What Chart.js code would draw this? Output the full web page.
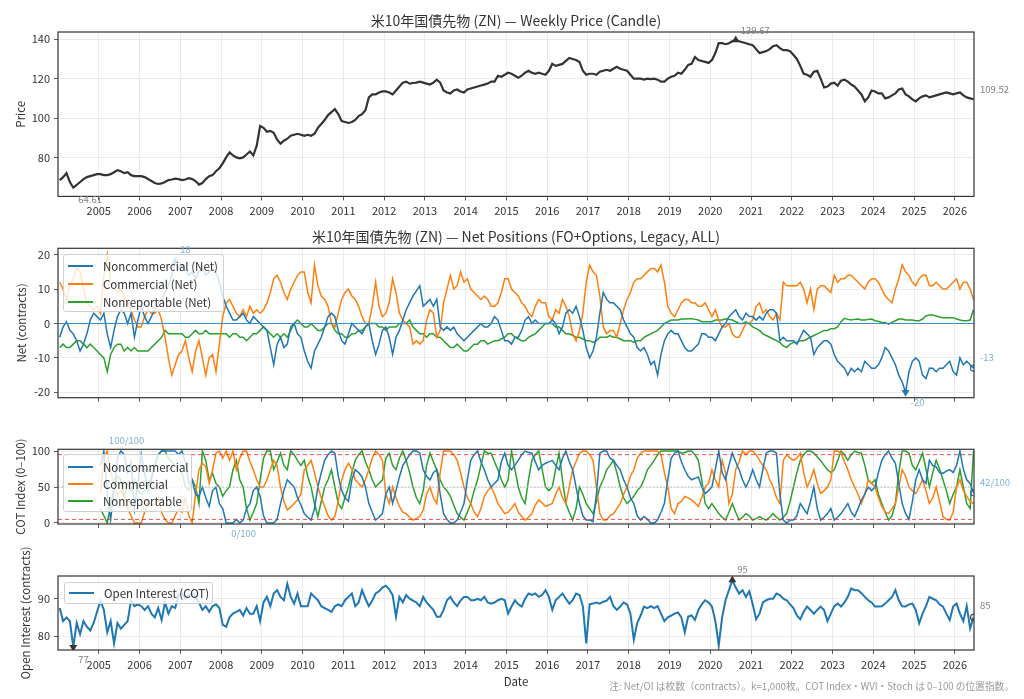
<!DOCTYPE html>
<html><head><meta charset="utf-8">
<script src="https://cdn.jsdelivr.net/npm/chart.js@4.4.1/dist/chart.umd.min.js"></script>
<style>
html,body{margin:0;padding:0;background:#fff;width:1024px;height:699px;overflow:hidden;font-family:"Noto Sans CJK JP","Noto Sans",sans-serif;}
canvas{position:absolute;left:0;}
.title{position:absolute;left:58px;width:916px;text-align:center;font-size:14px;color:#333;line-height:16px;white-space:nowrap;}
.legend{position:absolute;background:rgba(255,255,255,0.8);border:1px solid #d0d0d0;border-radius:3px;box-sizing:border-box;font-size:11.5px;color:#333;z-index:5;}
.legend .row{position:absolute;left:0;height:16px;display:flex;align-items:center;white-space:nowrap;}
.legend .sw{display:inline-block;width:25px;height:2px;margin-left:4px;margin-right:10px;}
.note{position:absolute;right:10px;top:680px;font-size:9.7px;color:#999;white-space:nowrap;line-height:12px;}
</style></head>
<body>
<canvas id="c1" width="1024" height="222" style="top:0px"></canvas>
<canvas id="c2" width="1024" height="192" style="top:222px"></canvas>
<canvas id="c3" width="1024" height="131" style="top:414px"></canvas>
<canvas id="c4" width="1024" height="154" style="top:545px"></canvas>

<div class="title" style="top:12px">米10年国債先物 (ZN) — Weekly Price (Candle)</div>
<div class="title" style="top:228px">米10年国債先物 (ZN) — Net Positions (FO+Options, Legacy, ALL)</div>

<div class="legend" style="left:63px;top:254px;width:161px;height:58px">
  <div class="row" style="top:3px"><span class="sw" style="background:#1f77b4"></span>Noncommercial (Net)</div>
  <div class="row" style="top:20.7px"><span class="sw" style="background:#ff7f0e"></span>Commercial (Net)</div>
  <div class="row" style="top:38.7px"><span class="sw" style="background:#2ca02c"></span>Nonreportable (Net)</div>
</div>
<div class="legend" style="left:63px;top:454px;width:129px;height:58px">
  <div class="row" style="top:4px"><span class="sw" style="background:#1f77b4"></span>Noncommercial</div>
  <div class="row" style="top:21.3px"><span class="sw" style="background:#ff7f0e"></span>Commercial</div>
  <div class="row" style="top:38px"><span class="sw" style="background:#2ca02c"></span>Nonreportable</div>
</div>
<div class="legend" style="left:64px;top:582px;width:149px;height:22px">
  <div class="row" style="top:2.3px"><span class="sw" style="background:#1f77b4"></span>Open Interest (COT)</div>
</div>
<div class="note">注: Net/OI は枚数（contracts）。k=1,000枚。COT Index・WVI・Stoch は 0–100 の位置指数。</div>

<script>
// ---------------- DATA (monthly readings, Jan 2004 .. Jun 2026) ----------------
const START_YEAR = 2004;
const yearTicks = [2005,2006,2007,2008,2009,2010,2011,2012,2013,2014,2015,2016,2017,2018,2019,2020,2021,2022,2023,2024,2025,2026];
const priceTicks = [80,100,120,140];
const netTicks = [-20,-10,0,10,20];
const cotTicks = [0,50,100];
const oiTicks = [80,90];

const price = [
68.5,70,72,67.5,64.61,66,67.5,69,70,70.5,71,71.5,
71.5,71,71,71.5,72.5,73.5,73,72,72.5,71,70.5,70.5,
70.5,70,69,68,67,66.5,66.8,67.5,68.5,68.8,69.2,69,
68.5,68.8,69.5,69,68,66.2,67,69,70.5,71,73,74.5,
77,80,82.5,81,80,79.5,80,81.5,83,81,86,96,
95,93,93.5,92.5,89,87,88.5,89.5,91,91.5,92,91.5,
91,91.5,91,92,95,97,99,101.5,103,104.5,102,98.5,
98,97.5,98,99,101,102,104,110.5,112,112,113,113.5,
113.5,113,112,114,116,118,118.5,117.5,117.8,118,118.5,118,
117.5,117,118,119.5,118,114,113,112.5,114,114.5,113.5,113,
114.5,115,115.5,116,116.5,117,117.5,118.5,118.5,121.5,121,122,
123,122.5,121.5,120.5,121.5,123,124,123,122.5,123,122.5,122,
124,127.5,126.5,127,127.5,129,130.5,130,129.5,128.5,124,122,
122.5,122.5,122,123.5,124,124.5,124,125,126,125,124.5,124,
122,120,120,120,119.5,120,119.8,120,119.5,118.5,118.5,120,
121,121.5,123,122.5,124.5,127,127.5,131,129.5,129,128.5,128,
129.5,133,138,138,137.5,138,139,139.67,139,138.5,138,137.5,
137,135,133,133.5,134,135,136.5,137,135.5,134.5,134.5,134,
132,130,126.5,122.5,122,121,123.5,124,120,115.5,116,117.5,
118,116.5,119,119.5,118.5,117,116,114,112,108.5,110.5,114,
113.5,112.5,112.5,110,110.5,111.5,112.5,114.5,115,112,111,109.5,
108.5,110,111,111.5,110.5,111,111.5,112,112.5,113,112.5,112,
112.5,113,111.5,110.5,110,109.52];

const netNoncommercial = [
-4,-1,0.5,-2,-3,-5,-8,-6,-3,1,3,2,
1,3,-3,-7,-2,2,4,3,0,3,-4,1,
5,2,0,2,4,6,7,9,11,14,18,16,
17,16,14,15,13,15,16,14,15,16,15,12,
8,5,3,1,1,2,3,1,0,2,1,0,
-1,-2,-7,-12,-6,-4,-7,-6,-1,0,-3,-4,
-8,-11,-13,-8,-6,-4,-1,2,3,2,-2,-5,
-6,-3,0,-1,-2,-3,-1,0,-5,-9,-6,-2,
-1,-4,-9,-4,-2,1,4,6,8,9.5,11,5,
6,7,5,7,-1,-2,-1,-2,-1,-3,-4,-5,
-4,-3,-2,-1,0,-1,-1,0,2,1,-2,-5,
-5,-6,-4,-4,-2,1,2,0,1,0,0,0,
0,1,0,-3,-1,3,4,3,5,2,-2,-7,
-10,-8,-4,3,9,7,6,6,5,4,1,-1,
-3,-4,-7,-8,-7,-9,-12,-11,-15,-9,-5,-3,
-2,-3,-3,-5,-7,-8,-8,-7,-6,-3,-3,-4,
-4,-5,-3,-1,0,2,3,4,2,1,3,2,
2,1,2,1,3,4,4,3,-5,-4,-5,-5,
-5,-6,-4,-2,-3,-4,-9,-7,-6,-5,-5,-6,
-9,-11,-12,-13,-15,-13,-14,-13,-14,-11,-12,-13,
-13,-12,-10,-7,-8,-10,-12,-15,-17,-20,-14,-11,
-10,-11,-15,-16,-13,-13,-14,-13,-13,-12,-11,-14,
-15,-10,-12,-11,-12,-13];

const netCommercial = [
12,10,7,11,13,16,15,10,6,5,4,5,
3,14,20,12,10,9,10,8,6,4,1,-1,
-1,2,4,3,3,4,1,-4,-10,-15,-12,-9,
-8,-5,-10,-14,-8,-5,-10,-15,-10,-9,-14,-6,
2,6,7,5,3,2,4,2,5,3,4,3,
4,6,9,13,14,12,9,7,10,12,14,15,
15,9,6,17,11,8,7,5,0,-1,3,7,
9,10,8,7,5,2,0,0,5,12,5,2,
3,6,13,9,3,1,0,-1,-6,-5,-6,-5,
1,4,3,-4,-2,6,10,14,10,11,15,12,
13,10,9,8,7,8,7,5,5,6,9,13,
13,10,9,8,6,5,3,2,5,7,6,6,
2,1,4,3,7,5,2,-3,-5,-2,3,12,
17,15,14,8,-1,-3,-2,-2,-4,0,4,7,
9,12,13,13,14,15,16,16,15,17,12,5,
3,2,4,6,7,7,6,6,5,5,6,4,
2,4,1,-1,-1,0,-3,-4,-4,-2,0,0,
1,5,6,3,4,2,1,3,1,12,11,11,
11,11,12,10,6,10,4,10,11,11,10,9,
14,12,13,13,14,14,13,12,11,10,12,13,
13,12,10,8,7,6,10,13,17,15,14,12,
11,13,14,14,11,11,12,11,10,10,11,12,
13,10,12,12,10,7];

const netNonreportable = [
-7,-6,-7,-7,-6,-5,-5,-6,-7,-6,-7,-8,
-9,-10,-14,-9,-7,-6,-6,-8,-7,-8,-7,-8,
-8,-8,-8,-7,-6,-5,-4,-2,-3,-3,-3,-3,
-3,-4,-4,-3,-2,-3,-3,-2,-3,-3,-3,-3,
-3,-3,-4,-3,-3,-4,-4,-5,-4,-3,-3,-2,
-1,-2,-3,-4,-3,-4,-3,-4,-2,0,1,0,
-1,-1,0,-1,-2,-2,-1,0,0,-2,-3,-3,
-4,-4,-3,-3,-2,-2,-1,0,0,0,-1,-1,
-2,-1,-1,-1,0,0,0,1,-1,-2,-3,-3,
-4,-3,-3,-4,-4,-5,-6,-7,-7,-6,-7,-8,
-8,-7,-6,-6,-5,-5,-6,-5.5,-5,-5,-4.5,-4,
-3,-3,-4,-4.5,-5,-5,-4,-3.5,-3,-2,-1,0,
0,0,-1,-1,-2,-3,-3,-3.5,-4,-4,-4.5,-5,
-5,-5.5,-5,-4,-4,-4,-3.5,-4,-4,-4.5,-5,-5,
-5,-5.5,-5,-5,-4,-3.5,-3,-2.5,-2,-1,0,0.5,
1,1,1,1.3,1.3,1.4,1.4,1.2,1,0.5,0.5,0.5,
0.5,1,1,1,1.4,1.2,1,0.5,0,0,0.5,0,
-1,-1.5,-2,-3,-3.5,-4,-4.5,-5,-5.5,-6.5,-7,-6,
-5.5,-5.5,-5,-5,-4.5,-4,-3.5,-3,-2.5,-2,-2,-1.5,
-1.5,-1,0.5,1.5,1.2,1,1.2,1.3,1,1,1.2,1.3,
0.8,0.6,0.3,0.3,-0.2,0.3,0.8,1.3,1.3,1,1,1,
0.8,0.8,1.3,2.2,2.5,2.5,2.2,1.9,1.7,1.7,1.7,1.7,
1.3,1,0.8,0.8,1,4];

const cotNoncommercial = [
null,null,null,null,null,null,null,null,null,null,null,null,
80,100,40,5,45,90,100,95,70,85,20,55,
95,70,45,60,80,95,100,100,100,100,100,95,
100,85,55,60,40,37,50,35,23,45,50,27,
20,0,0,0,5,0,4,20,27,45,50,37,
10,0,0,0,5,27,45,60,55,50,35,25,
13,8,4,20,50,70,87,95,100,97,65,45,
35,30,60,74,70,64,50,27,15,4,8,13,
40,50,27,45,64,80,87,95,100,100,97,74,
65,60,70,74,40,13,5,0,0,4,15,27,
60,87,95,100,85,74,60,50,55,60,85,97,
80,74,80,87,95,100,98,97,85,74,80,83,
85,87,80,74,90,100,85,74,50,27,10,4,
4,2,40,97,100,100,90,87,80,74,60,50,
35,27,10,4,9,5,0,0,4,15,27,60,
90,97,100,85,74,65,60,62,64,50,41,45,
50,75,100,70,60,80,97,85,74,60,50,60,
74,60,50,75,97,100,100,97,40,4,0,4,
4,10,27,20,13,30,50,20,4,8,13,20,
4,8,13,20,27,15,9,20,32,40,50,45,
50,70,87,95,100,90,83,55,27,13,5,30,
60,74,60,55,87,80,78,70,69,72,74,70,
80,100,75,60,55,42];

const cotCommercial = [
null,null,null,null,null,null,null,null,null,null,null,null,
40,90,100,70,55,40,45,35,20,10,0,0,
0,15,30,25,25,35,15,5,0,0,10,20,
15,35,10,0,40,74,83,78,55,74,97,100,
90,100,87,100,74,90,100,100,85,74,60,50,
50,60,74,87,80,50,30,18,22,27,32,40,
74,80,87,70,50,35,23,10,4,9,30,60,
74,83,75,60,55,50,60,74,90,100,95,87,
40,27,50,35,23,15,13,8,4,6,9,18,
40,50,35,27,70,100,100,100,95,87,70,50,
35,27,15,9,20,37,45,50,40,27,20,13,
15,20,27,15,9,4,8,13,25,32,28,23,
25,27,40,50,35,27,50,74,85,97,100,100,
95,87,50,13,4,4,10,13,20,27,40,50,
65,74,90,97,100,100,100,100,100,95,70,50,
20,13,27,30,37,35,32,28,23,35,50,55,
74,60,50,87,70,27,40,74,85,100,95,100,
100,95,87,80,74,60,50,35,27,87,95,90,
87,90,97,70,50,60,74,55,41,45,50,60,
100,100,97,85,74,60,50,40,27,40,60,55,
50,35,23,15,13,20,27,50,74,65,50,45,
41,50,60,45,27,35,50,30,9,5,4,15,
50,60,45,37,30,27];

const cotNonreportable = [
null,null,null,null,null,null,null,null,null,null,null,null,
20,10,0,25,50,65,60,35,55,45,60,45,
40,45,50,65,80,95,100,100,90,85,80,75,
70,50,45,60,50,27,100,87,60,69,55,50,
37,45,50,74,87,60,50,20,4,15,27,60,
90,100,100,74,85,97,80,74,100,95,87,80,
87,65,50,27,9,30,50,60,74,50,27,20,
35,50,70,87,95,100,85,74,60,50,55,60,
90,97,80,74,90,100,87,70,50,35,27,45,
80,97,85,74,60,50,45,37,25,13,8,4,
15,27,45,60,80,100,97,97,85,74,60,50,
60,100,75,50,35,27,60,87,95,100,75,50,
45,50,75,97,60,27,15,4,20,50,40,27,
20,13,30,50,60,74,80,87,70,50,35,27,
32,37,45,50,60,74,80,87,95,100,100,100,
100,100,100,97,98,100,100,95,87,60,27,20,
27,20,13,8,4,15,27,15,4,8,13,10,
4,6,9,6,4,8,13,8,4,8,13,30,
50,70,87,95,100,100,97,92,87,80,74,70,
74,87,100,95,87,95,100,98,97,80,60,55,
60,40,27,15,4,10,27,70,100,100,97,80,
74,85,97,75,50,70,87,75,60,45,27,40,
50,74,50,27,20,100];

const openInterest = [
87.5,84,85,84,77,83.5,80.5,84,82.5,81.5,83.5,86.5,
89.5,87,81,84,78,83.5,82,83,84,89.5,88,88.5,
88,87,88,86,85,87.5,84.3,89,86,88,87.5,91,
91.5,90,91,91.5,90.5,89,87,88,86.5,88,88.5,87.5,
83,82.5,85,86,86.5,87,85.5,87.5,86,86,88,84,
89,90.5,88,91.4,92.3,90.5,89.6,94,90.5,88.7,91.4,88,
88,88,91.4,90.5,89.6,88,87.5,87,86.5,88,88.5,88,
89.6,90.5,91.4,88,89,92.3,90,88,89.5,91.4,92,93,
93.5,92.5,91,85.2,90.5,89,91,90,89.5,89,88,90.5,
89,88,87,85.2,85.2,87,89.6,90.5,89,88,89.5,90.5,
90.5,89.6,89.6,90,89.6,90.5,89,88.7,89,89.6,90,89.6,
86,87.9,89.6,88.5,87.9,90,91.4,91,91.4,90.5,91,92.3,
90.5,87,89.6,90.5,91.4,90,88.7,89.6,91.4,91,88,78,
88.5,88.7,89,88.7,89.2,89.5,90.5,88,87,87.9,89,88.5,
86,79,83.5,85.5,87.9,87.5,88,87.5,88,86,84,85,
85.5,86,86.3,85,81,85.2,85.5,84.3,87,88.5,89.6,89,
87.9,84,77.5,85,89.6,92.3,95,93,91.4,92.3,90.5,92,
88.5,84.5,86,89,89.6,90,90,91.4,91,90,89.6,88.5,
87.5,85.5,84.5,86.5,87.9,87,86,87,87.9,87,84,86,
88,88.7,87.9,89,90.5,92.8,92.3,92.3,91.5,90.5,89.6,89,
87.9,87.9,88,88.7,89.6,90.5,92.3,89.6,88,87.9,88.5,88.7,
87,83.4,86,88,90.5,90,89.6,88.5,87.9,86,84.3,87.9,
88.7,86,84,88,82,85];

// ---------------- helpers ----------------
const FONT = '"Noto Sans CJK JP","Noto Sans",sans-serif';
Chart.defaults.font.family = FONT;
Chart.defaults.color = '#333';
const monthX = price.map((_, i) => START_YEAR + (i + 0.5) / 12);
const xy = arr => arr.map((v, i) => ({x: monthX[i], y: v}));
const X_MIN = 2004.0, X_MAX = 2026.47;
const BLUE = '#1f77b4', ORANGE = '#ff7f0e', GREEN = '#2ca02c';
const LBLUE = '#7fb0d8', GRAYTXT = '#808080';

function firstMax(arr){ let bi=-1,bv=-Infinity; arr.forEach((v,i)=>{ if(v!==null && v>bv){bv=v;bi=i;} }); return bi; }
function firstMin(arr){ let bi=-1,bv=Infinity; arr.forEach((v,i)=>{ if(v!==null && v<bv){bv=v;bi=i;} }); return bi; }

function lineDS(arr, color, width, lastCircle, circleColor) {
  const last = arr.length - 1;
  return {
    type: 'line', data: xy(arr), borderColor: color, borderWidth: width,
    pointRadius: lastCircle ? (c => c.dataIndex === last ? 3 : 0) : 0,
    pointBackgroundColor: 'rgba(255,255,255,0)', pointBorderColor: circleColor || color, pointBorderWidth: 1.2,
    tension: 0, spanGaps: false, order: 2
  };
}
function markerDS(arr, idx, color, down) {
  return {
    type: 'scatter', data: [{x: monthX[idx], y: arr[idx]}], pointStyle: 'triangle',
    rotation: down ? 180 : 0, pointRadius: 4.5, backgroundColor: color, borderColor: color, borderWidth: 0, order: 1
  };
}

function panelPlugin(cfg) {
  return {
    id: 'panel_' + cfg.id,
    afterDatasetsDraw(chart) {
      const {ctx, chartArea: a, scales: {y}} = chart;
      ctx.save();
      (cfg.hlines || []).forEach(h => {
        const py = y.getPixelForValue(h.v);
        ctx.strokeStyle = h.color; ctx.lineWidth = h.w; ctx.setLineDash(h.dash || []);
        ctx.beginPath(); ctx.moveTo(a.left, py); ctx.lineTo(a.right, py); ctx.stroke();
      });
      ctx.restore();
    },
    afterDraw(chart) {
      const {ctx, chartArea: a, scales: {x, y}} = chart;
      ctx.save();
      ctx.setLineDash([]);
      ctx.strokeStyle = '#333'; ctx.lineWidth = 1.2;
      ctx.strokeRect(a.left, a.top, a.right - a.left, a.bottom - a.top);
      ctx.font = '9.5px ' + FONT; ctx.textBaseline = 'middle'; ctx.textAlign = 'left';
      (cfg.labels || []).forEach(l => {
        ctx.fillStyle = l.color;
        const px = l.right ? a.right + 6 : x.getPixelForValue(l.x) + 5;
        const py = y.getPixelForValue(l.y) + l.dy;
        ctx.fillText(l.text, px, py);
      });
      ctx.restore();
    }
  };
}

function makeChart(id, o) {
  return new Chart(document.getElementById(id), {
    data: { datasets: o.datasets },
    options: {
      responsive: false, animation: false, devicePixelRatio: 1,
      layout: { padding: { top: o.padTop, right: 50, left: 0, bottom: 0 } },
      plugins: { legend: { display: false }, tooltip: { enabled: false } },
      scales: {
        x: {
          type: 'linear', min: X_MIN, max: X_MAX,
          afterBuildTicks: ax => { ax.ticks = yearTicks.map(v => ({value: v})); },
          afterFit: s => { s.height = o.xHeight; },
          ticks: { display: o.showX, font: { size: 11 }, color: '#333', padding: 4, maxRotation: 0, autoSkip: false, callback: v => String(v) },
          grid: { color: '#e6e6e6', lineWidth: 0.8, tickLength: 4, tickColor: '#333', drawTicks: true },
          border: { display: false },
          title: o.xTitle ? { display: true, text: o.xTitle, font: { size: 11.5 }, color: '#333', padding: { top: 0, bottom: 10 } } : { display: false }
        },
        y: {
          min: o.yMin, max: o.yMax,
          afterBuildTicks: ax => { ax.ticks = o.yTicks.map(v => ({value: v})); },
          afterFit: s => { s.width = 58; },
          ticks: { font: { size: 11 }, color: '#333', padding: 4, callback: v => String(v) },
          grid: { color: '#e6e6e6', lineWidth: 0.8, tickLength: 4, tickColor: '#333', drawTicks: true },
          border: { display: false },
          title: { display: true, text: o.yTitle, font: { size: 11.5 }, color: '#333', padding: { top: o.yTitlePad, bottom: 0 } }
        }
      }
    },
    plugins: [panelPlugin(o.plugin)]
  });
}

// ---------------- Panel 1: price ----------------
const pMax = firstMax(price), pMin = firstMin(price), pLast = price.length - 1;
makeChart('c1', {
  padTop: 32, xHeight: 25.6, showX: true, yMin: 60.2, yMax: 143.7, yTicks: priceTicks,
  yTitle: 'Price', yTitlePad: 13.8,
  datasets: [ lineDS(price, '#333', 2.2, false), markerDS(price, pMax, '#333', false) ],
  plugin: { id: 1, labels: [
    { x: monthX[pMax], y: price[pMax], dy: -10, text: price[pMax].toFixed(2), color: GRAYTXT },
    { x: monthX[pMin], y: price[pMin], dy: 11.5, text: price[pMin].toFixed(2), color: GRAYTXT },
    { right: true, y: price[pLast], dy: -10, text: price[pLast].toFixed(2), color: GRAYTXT }
  ] }
});

// ---------------- Panel 2: net positions ----------------
const nMax = firstMax(netNoncommercial), nMin = firstMin(netNoncommercial), nLast = netNoncommercial.length - 1;
makeChart('c2', {
  padTop: 26.3, xHeight: 16.3, showX: false, yMin: -21.57, yMax: 21.86, yTicks: netTicks,
  yTitle: 'Net (contracts)', yTitlePad: 14.8,
  datasets: [
    lineDS(netNoncommercial, BLUE, 1.5, true),
    lineDS(netCommercial, ORANGE, 1.5, false),
    lineDS(netNonreportable, GREEN, 1.5, false),
    markerDS(netNoncommercial, nMax, BLUE, false),
    markerDS(netNoncommercial, nMin, BLUE, true)
  ],
  plugin: { id: 2,
    hlines: [ { v: 0, color: '#3d8cc4', w: 1.1 } ],
    labels: [
      { x: monthX[nMax], y: netNoncommercial[nMax], dy: -12, text: String(Math.round(netNoncommercial[nMax])), color: LBLUE },
      { x: monthX[nMin], y: netNoncommercial[nMin], dy: 10.5, text: String(Math.round(netNoncommercial[nMin])), color: LBLUE },
      { right: true, y: netNoncommercial[nLast], dy: -10.5, text: String(Math.round(netNoncommercial[nLast])), color: LBLUE }
    ] }
});

// ---------------- Panel 3: COT index ----------------
const cMax = firstMax(cotNoncommercial), cMin = firstMin(cotNoncommercial), cLast = cotNoncommercial.length - 1;
makeChart('c3', {
  padTop: 35.3, xHeight: 21, showX: false, yMin: -1.4, yMax: 102.4, yTicks: cotTicks,
  yTitle: 'COT Index (0–100)', yTitlePad: 13.8,
  datasets: [
    lineDS(cotNoncommercial, BLUE, 1.5, true),
    lineDS(cotCommercial, ORANGE, 1.5, false),
    lineDS(cotNonreportable, GREEN, 1.5, false)
  ],
  plugin: { id: 3,
    hlines: [
      { v: 95, color: 'rgba(220,40,40,0.8)', w: 1, dash: [4, 3] },
      { v: 5, color: 'rgba(220,40,40,0.8)', w: 1, dash: [4, 3] },
      { v: 50, color: '#b5b5b5', w: 1, dash: [1.5, 2] }
    ],
    labels: [
      { x: monthX[cMax], y: cotNoncommercial[cMax], dy: -10.3, text: cotNoncommercial[cMax] + '/100', color: LBLUE },
      { x: monthX[cMin], y: cotNoncommercial[cMin], dy: 10.5, text: cotNoncommercial[cMin] + '/100', color: LBLUE },
      { right: true, y: cotNoncommercial[cLast], dy: -10.5, text: cotNoncommercial[cLast] + '/100', color: LBLUE }
    ] }
});

// ---------------- Panel 4: open interest ----------------
const oMax = firstMax(openInterest), oMin = firstMin(openInterest), oLast = openInterest.length - 1;
makeChart('c4', {
  padTop: 31, xHeight: 49, showX: true, xTitle: 'Date', yMin: 76.25, yMax: 96.1, yTicks: oiTicks,
  yTitle: 'Open Interest (contracts)', yTitlePad: 19.1,
  datasets: [
    lineDS(openInterest, BLUE, 2, true, '#444'),
    markerDS(openInterest, oMax, '#333', false),
    markerDS(openInterest, oMin, '#333', true)
  ],
  plugin: { id: 4,
    labels: [
      { x: monthX[oMax], y: openInterest[oMax], dy: -10.7, text: String(Math.round(openInterest[oMax])), color: GRAYTXT },
      { x: monthX[oMin], y: openInterest[oMin], dy: 11.7, text: String(Math.round(openInterest[oMin])), color: GRAYTXT },
      { right: true, y: openInterest[oLast], dy: -11.5, text: String(Math.round(openInterest[oLast])), color: GRAYTXT }
    ] }
});
</script>
</body></html>
